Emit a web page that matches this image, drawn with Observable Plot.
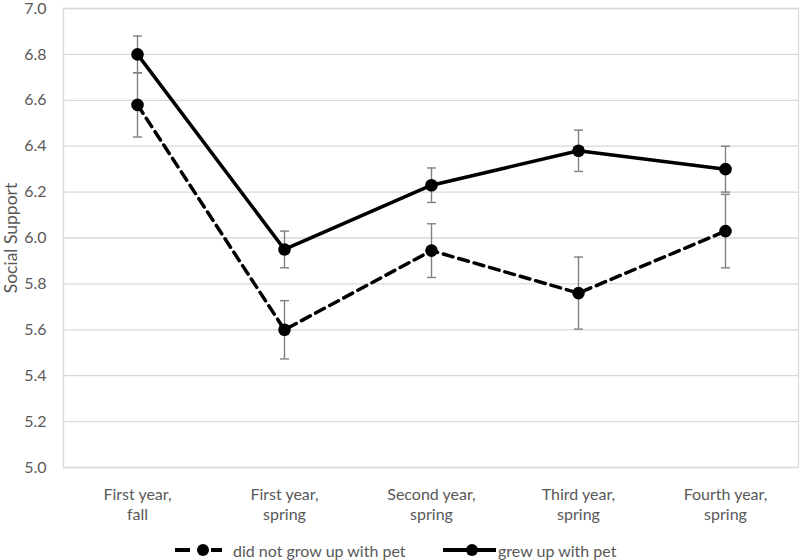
<!DOCTYPE html>
<html>
<head>
<meta charset="utf-8">
<script src="https://cdn.jsdelivr.net/npm/d3@7"></script>
<script src="https://cdn.jsdelivr.net/npm/@observablehq/plot@0.6"></script>
<style>
  html, body { margin: 0; padding: 0; background: #fff; }
  #chart { width: 800px; }
  .legend { position: relative; height: 30px; font-family: Lato, "Open Sans", sans-serif; font-size: 16px; color: #595959; }
  .legend .item { position: absolute; top: 5px; display: flex; align-items: center; height: 30px; }
  .legend svg { display: block; }
</style>
</head>
<body>
<div id="chart"></div>
<script>
const categories = ["First year,\nfall", "First year,\nspring", "Second year,\nspring", "Third year,\nspring", "Fourth year,\nspring"];
const noPetMean = [6.58, 5.60, 5.945, 5.76, 6.03];
const noPetErr  = [0.14, 0.127, 0.117, 0.157, 0.16];
const petMean   = [6.80, 5.95, 6.23, 6.38, 6.30];
const petErr    = [0.08, 0.08, 0.075, 0.09, 0.10];
const yTicks = [5.0, 5.2, 5.4, 5.6, 5.8, 6.0, 6.2, 6.4, 6.6, 6.8, 7.0];
const yLabel = "Social Support";
const seriesNames = ["did not grow up with pet", "grew up with pet"];

const rows = [];
categories.forEach((c, i) => {
  rows.push({cat: c, group: seriesNames[0], v: noPetMean[i], lo: noPetMean[i] - noPetErr[i], hi: noPetMean[i] + noPetErr[i]});
  rows.push({cat: c, group: seriesNames[1], v: petMean[i], lo: petMean[i] - petErr[i], hi: petMean[i] + petErr[i]});
});
const noPet = rows.filter(d => d.group === seriesNames[0]);
const pet = rows.filter(d => d.group === seriesNames[1]);

const cap = { draw(ctx) { ctx.moveTo(-4.5, 0); ctx.lineTo(4.5, 0); } };
const grey = "#595959";

const chart = Plot.plot({
  width: 800,
  height: 530,
  marginLeft: 63,
  marginRight: 2,
  marginTop: 8,
  marginBottom: 63,
  style: { fontFamily: "Lato, 'Open Sans', sans-serif", fontSize: "16px", color: grey, background: "#fff" },
  x: { type: "point", domain: categories, padding: 0.5 },
  y: { domain: [5, 7] },
  marks: [
    Plot.ruleY(yTicks, { stroke: "#d9d9d9", strokeWidth: 1.3 }),
    Plot.frame({ stroke: "#d9d9d9", strokeWidth: 1.3 }),
    Plot.axisY({ ticks: yTicks, tickSize: 0, tickPadding: 17, tickFormat: d3.format(".1f"), label: null, fill: grey }),
    Plot.text([yLabel], { frameAnchor: "left", textAnchor: "middle", rotate: -90, dx: -52, fontSize: 17.5, fill: grey }),
    Plot.axisX({ tickSize: 0, tickPadding: 18, label: null, lineHeight: 1.25, fill: grey }),
    Plot.ruleX(rows, { x: "cat", y1: "lo", y2: "hi", stroke: "#808080", strokeWidth: 1.4 }),
    Plot.dot(rows, { x: "cat", y: "lo", symbol: cap, stroke: "#808080", strokeWidth: 1.4, fill: "none" }),
    Plot.dot(rows, { x: "cat", y: "hi", symbol: cap, stroke: "#808080", strokeWidth: 1.4, fill: "none" }),
    Plot.line(noPet, { x: "cat", y: "v", stroke: "#000", strokeWidth: 3.5, strokeDasharray: "10,6" }),
    Plot.line(pet, { x: "cat", y: "v", stroke: "#000", strokeWidth: 3.5 }),
    Plot.dot(rows, { x: "cat", y: "v", r: 6.3, fill: "#000" })
  ]
});
document.getElementById("chart").appendChild(chart);

const legend = document.createElement("div");
legend.className = "legend";
legend.innerHTML = `
  <div class="item" style="left:175px"><svg width="47" height="14" style="margin-right:11px"><line x1="0" y1="7" x2="15" y2="7" stroke="#000" stroke-width="4"/><line x1="36" y1="7" x2="47" y2="7" stroke="#000" stroke-width="4"/><circle cx="28" cy="7" r="6" fill="#000"/></svg><span>${seriesNames[0]}</span></div>
  <div class="item" style="left:443px"><svg width="53" height="14" style="margin-right:2px"><line x1="0" y1="7" x2="53" y2="7" stroke="#000" stroke-width="4"/><circle cx="29" cy="7" r="6" fill="#000"/></svg><span>${seriesNames[1]}</span></div>`;
document.getElementById("chart").appendChild(legend);
</script>
</body>
</html>
